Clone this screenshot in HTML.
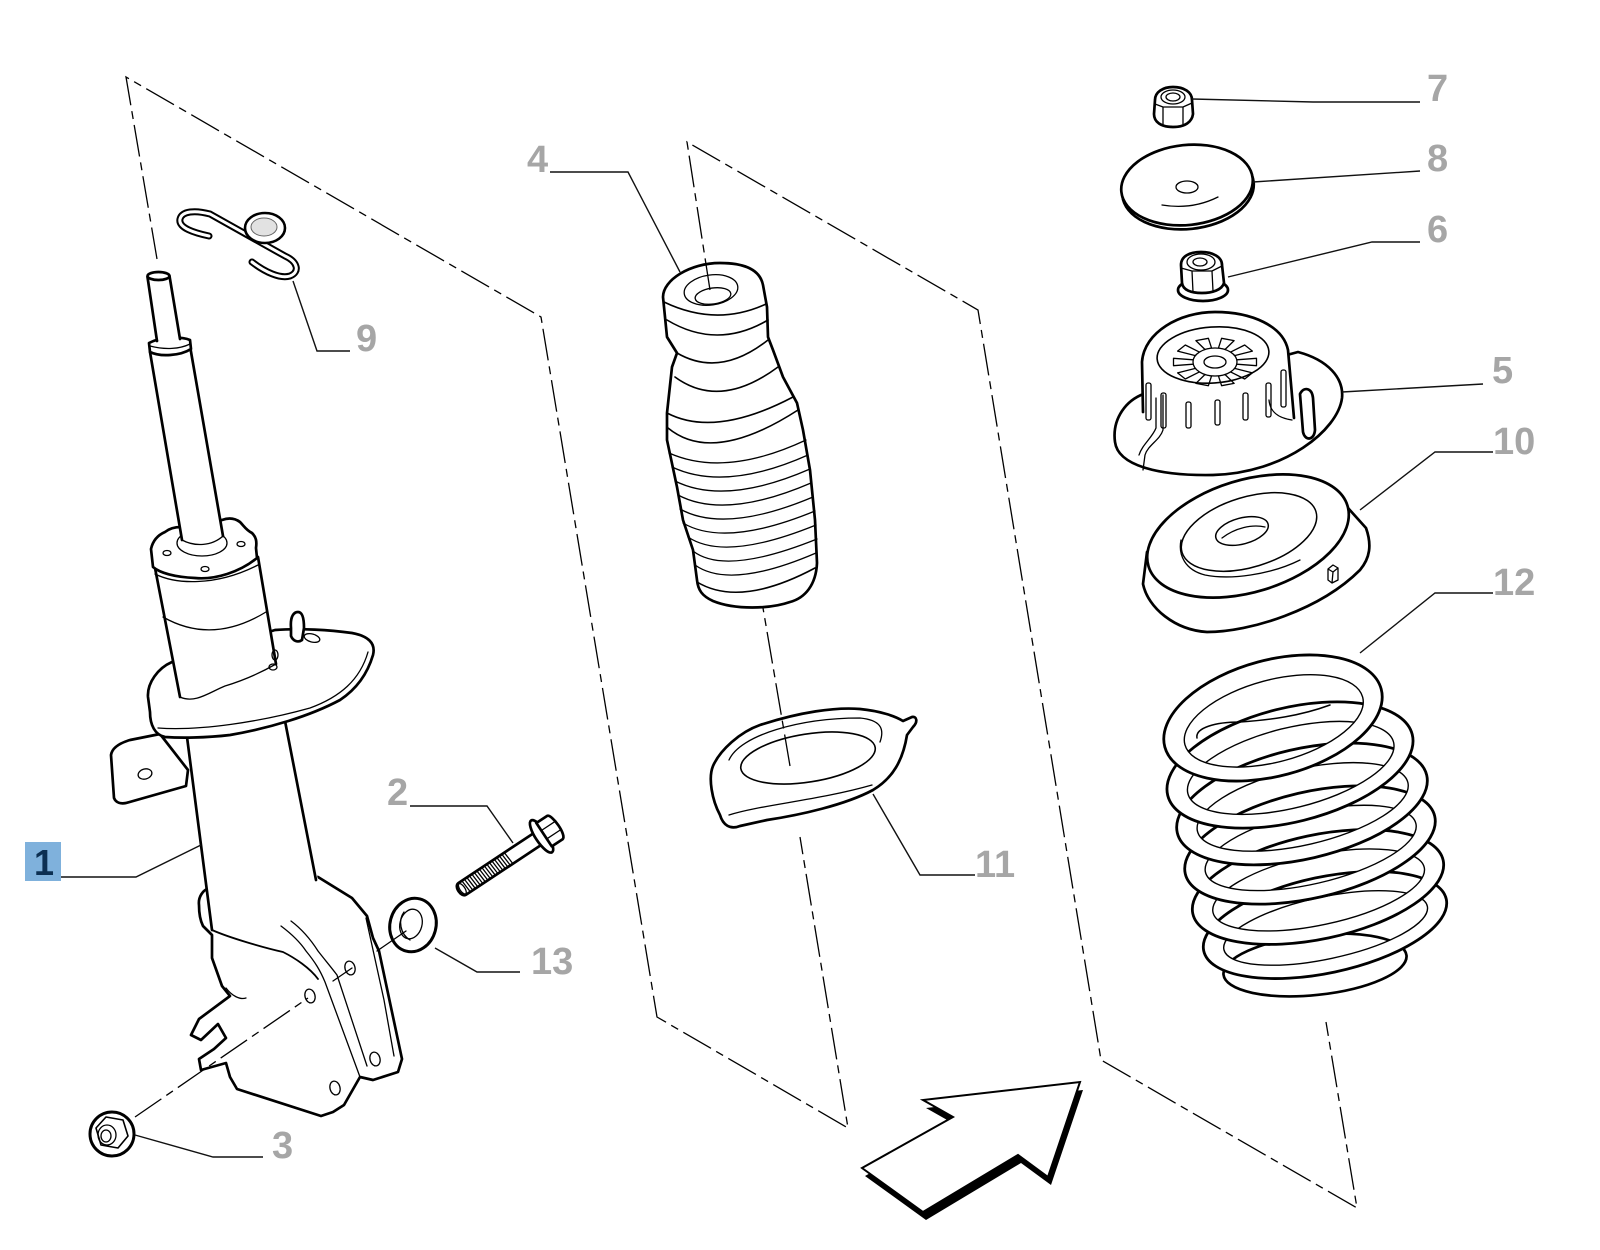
<!DOCTYPE html>
<html><head><meta charset="utf-8"><style>
html,body{margin:0;padding:0;background:#fff;}
svg{display:block;}
.o{fill:#fff;stroke:#000;stroke-width:2.7;stroke-linejoin:round;stroke-linecap:round;}
.n{fill:none;stroke:#000;stroke-width:2.7;stroke-linejoin:round;stroke-linecap:round;}
.t{fill:none;stroke:#000;stroke-width:1.3;stroke-linecap:round;stroke-linejoin:round;}
.tw{fill:#fff;stroke:#000;stroke-width:1.3;stroke-linejoin:round;}
.d{fill:none;stroke:#000;stroke-width:1.3;stroke-dasharray:32 6 8 6;}
.l{fill:none;stroke:#111;stroke-width:1.4;}
.lb{font-family:"Liberation Sans",Arial,sans-serif;font-weight:bold;font-size:38px;fill:#a6a6a6;}
</style></head><body>
<svg width="1600" height="1250" viewBox="0 0 1600 1250" xmlns="http://www.w3.org/2000/svg">
<rect width="1600" height="1250" fill="#fff"/>

<!-- ============ PART 1: STRUT ============ -->
<path class="o" d="M209,888 C203,890 198,897 199,905 C199,915 201,922 203,926 L212,935 L212,958 L222,986 L230,996 L199,1019 L191,1035 L201,1040 L218,1024 L226,1038 L214,1049 L199,1059 L201,1070 L226,1063 L230,1077 L237,1089 L321,1116 L333,1112 L344,1105 L360,1077 L373,1080 L398,1072 L402,1059 L379,951 L373,938 L367,916 L352,898 L318,877 L314,877 Z"/>
<path d="M187,737 L212,928 C230,937 265,948 283,952 C295,958 310,968 318,979 L318,880 L285,721 Z" fill="#fff"/>
<path class="n" d="M187,737 L212,930"/>
<path class="n" d="M285,721 L316,880"/>
<path class="t" style="stroke-width:1.8" d="M212,930 C230,938 265,948 283,952 C295,958 310,968 318,979"/>
<path class="t" d="M281,926 C293,935 300,942 306,951 C315,962 320,970 325,982 L360,1077"/>
<path class="t" d="M291,921 C303,930 311,940 318,951 C325,960 331,967 337,975 L367,1066"/>
<path class="t" d="M366,918 L384,1000 L394,1056"/>
<path class="t" d="M226,988 C232,996 240,1000 246,998"/>
<ellipse class="t" cx="350" cy="968" rx="5" ry="7" transform="rotate(-15 350 968)"/>
<ellipse class="t" cx="310" cy="996" rx="5" ry="7" transform="rotate(-15 310 996)"/>
<ellipse class="t" cx="375" cy="1059" rx="5" ry="7" transform="rotate(-15 375 1059)"/>
<ellipse class="t" cx="335" cy="1088" rx="5" ry="7" transform="rotate(-15 335 1088)"/>
<path class="o" d="M160,734 L130,740 C120,743 112,748 111,755 L114,798 C116,803 121,804 126,803 L186,786 L188,770 Z"/>
<ellipse class="t" cx="145" cy="774" rx="7" ry="5" transform="rotate(-15 145 774)"/>
<path class="o" d="M172,662 L275,630 C300,628 330,630 352,633 C368,636 376,643 373,655 C368,672 358,688 340,700 C310,716 270,728 230,735 C205,738 180,738 165,737 C155,735 150,725 150,712 L148,697 C147,683 158,668 172,662 Z"/>
<path class="t" d="M158,728 C200,731 260,722 310,708 C340,697 360,680 368,652"/>
<path class="o" d="M291,628 C290,616 294,612 298,612 C302,612 304,617 304,628 L302,640 C298,643 293,641 291,636 Z"/>
<ellipse class="t" cx="312" cy="638" rx="8" ry="4" transform="rotate(15 312 638)"/>
<path d="M155,568 L180,697 C195,704 210,692 225,686 C245,680 262,672 276,664 L258,557 Z" fill="#fff"/>
<path class="n" d="M155,568 L180,697"/>
<path class="n" d="M258,557 L276,664"/>
<path class="t" d="M180,697 C195,704 210,692 225,686 C245,680 262,672 276,664"/>
<path class="t" d="M163,617 Q212,645 266,612"/>
<ellipse class="t" cx="275" cy="655" rx="3" ry="5"/>
<ellipse class="t" cx="273" cy="667" rx="4" ry="3"/>
<path class="o" d="M153,567 L151,549 C153,540 158,535 165,532 C170,528 176,527 181,527 L222,520 C230,517 236,519 240,522 C244,526 246,530 252,533 C256,537 257,541 256,548 L257,558 C240,572 215,580 195,578 C175,577 160,573 153,567 Z"/>
<path class="t" d="M155,574 C175,584 215,587 258,565"/>
<ellipse class="t" cx="202" cy="543" rx="25" ry="13"/>
<ellipse class="t" cx="167" cy="553" rx="4" ry="2.5"/>
<ellipse class="t" cx="205" cy="569" rx="4" ry="2.5"/>
<ellipse class="t" cx="241" cy="544" rx="4" ry="2.5"/>
<path d="M182,541 L150,352 L190,346 L223,537 Z" fill="#fff"/>
<path class="n" d="M150,352 L182,540"/>
<path class="n" d="M190,346 L223,536"/>
<path class="t" d="M182,540 C195,547 212,546 223,536"/>
<path class="o" d="M149,343 C160,337 180,336 190,340 L191,349 C180,356 160,357 150,352 Z"/>
<path class="t" d="M150,346 C165,350 180,349 190,344"/>
<path d="M147.5,277 L169.5,276 L180,339 L157,341 Z" fill="#fff"/>
<path class="n" d="M147.5,277 L157,341"/>
<path class="n" d="M169.5,276 L180,339"/>
<ellipse class="o" cx="158.5" cy="276" rx="11" ry="4"/>

<!-- ============ PART 9: CLIP ============ -->
<path d="M209,236 C195,233 178,228 180,219 C182,211 195,210 210,214 L285,256 C298,262 300,272 290,276 C280,279 265,272 252,262" fill="none" stroke="#000" stroke-width="7" stroke-linecap="round" stroke-linejoin="round"/>
<path d="M209,236 C195,233 178,228 180,219 C182,211 195,210 210,214 L285,256 C298,262 300,272 290,276 C280,279 265,272 252,262" fill="none" stroke="#fff" stroke-width="3" stroke-linecap="round" stroke-linejoin="round"/>
<ellipse cx="265" cy="228" rx="20" ry="15" fill="#fff" stroke="#000" stroke-width="2.6"/>
<ellipse cx="264" cy="227" rx="13" ry="9" fill="#e2e2e2" stroke="#666" stroke-width="1"/>

<!-- ============ PART 2: BOLT ============ -->
<g transform="translate(459,891) rotate(-33.5)">
<path class="o" d="M4,-7 L97,-7 L97,7 L4,7 C-2,7 -2,-7 4,-7 Z"/>
<path class="t" d="M8,-7 L9,7 M11,-7 L12,7 M14,-7 L15,7 M17,-7 L18,7 M20,-7 L21,7 M23,-7 L24,7 M26,-7 L27,7 M29,-7 L30,7 M32,-7 L33,7 M35,-7 L36,7 M38,-7 L39,7 M41,-7 L42,7 M44,-7 L45,7 M47,-7 L48,7 M50,-7 L51,7 M53,-7 L54,7 M56,-7 L57,7 M59,-7 L60,7"/>
<ellipse class="t" cx="4" cy="0" rx="2.5" ry="6"/>
<ellipse class="o" cx="99" cy="0" rx="6" ry="19"/>
<path class="o" d="M102,-14 L115,-14 C120,-13 121,13 115,14 L102,14 Z"/>
<path class="t" d="M103,-5 L119,-5 M103,5 L119,5"/>
</g>

<!-- ============ PART 13: WASHER ============ -->
<ellipse cx="413" cy="925" rx="23" ry="27" transform="rotate(15 413 925)" fill="#fff" stroke="#000" stroke-width="3"/>
<ellipse class="t" cx="411" cy="924" rx="11" ry="15" transform="rotate(15 411 924)"/>
<path class="t" d="M404,912 C398,920 400,934 410,940"/>

<!-- ============ PART 3: NUT ============ -->
<ellipse cx="112" cy="1134" rx="22" ry="22" fill="#fff" stroke="#000" stroke-width="3"/>
<path class="t" style="stroke-width:1.6" d="M96,1128 L106,1117 L123,1120 L128,1136 L118,1148 L101,1145 Z"/>
<ellipse class="t" cx="107" cy="1135" rx="9" ry="10"/>
<ellipse class="t" cx="106" cy="1136" rx="5" ry="6"/>

<!-- ============ PART 4: BOOT ============ -->
<path class="o" d="M663,297 C663,280 690,263 720,263 C745,263 760,270 763,285 L767,307 L768,337 L773,350 L783,377 L797,403 L803,430 L810,470 L815,520 L817,563 C816,585 805,598 790,602 C770,609 735,610 713,601 C702,596 698,590 697,580 L693,550 L683,520 L677,487 L667,440 L667,413 L672,367 L677,353 L667,337 Z"/>
<path class="t" style="stroke-width:1.6" d="M664,302 Q716,327 766,304"/>
<ellipse class="t" cx="711" cy="290" rx="27" ry="15" transform="rotate(-8 711 290)"/>
<ellipse class="t" cx="713" cy="296" rx="18" ry="8" transform="rotate(-8 713 296)"/>
<path class="t" style="stroke-width:1.6" d="M667,320 Q717,350 768,320"/>
<path class="t" style="stroke-width:1.6" d="M677,353 Q720,378 768,340"/>
<path class="t" style="stroke-width:1.6" d="M675,377 Q720,410 778,367"/>
<path class="t" style="stroke-width:1.6" d="M667,413 Q715,438 793,397"/>
<path class="t" style="stroke-width:1.6" d="M668,428 Q713,465 798,410"/>
<path class="t" d="M669,453 Q725,478 806,440"/>
<path class="t" d="M672,467 Q725,492 808,455"/>
<path class="t" d="M675,481 Q725,506 810,469"/>
<path class="t" d="M678,495 Q725,520 811,483"/>
<path class="t" d="M680,509 Q725,534 813,497"/>
<path class="t" d="M683,523 Q725,548 815,511"/>
<path class="t" d="M688,537 Q725,562 816,525"/>
<path class="t" d="M693,551 Q725,576 817,539"/>
<path class="t" d="M695,565 Q730,590 816,553"/>
<path class="t" style="stroke-width:1.6" d="M697,582 Q740,608 815,568"/>

<!-- ============ PART 11: SEAT ============ -->
<path class="o" d="M713,766 C708,778 712,800 720,815 C723,825 730,830 740,826 L767,820 C800,815 845,805 873,790 C893,778 903,760 907,735 L913,727 C918,722 917,716 912,717 L903,721 C895,716 880,711 860,709 C835,707 800,712 760,725 C740,732 720,750 713,766 Z"/>
<ellipse class="t" style="stroke-width:1.6" cx="808" cy="758" rx="68" ry="24" transform="rotate(-9 808 758)"/>
<path class="t" d="M729,760 C740,735 800,718 860,718 C880,720 885,728 880,742"/>
<path class="t" d="M729,815 C760,805 820,800 872,785"/>

<!-- ============ ARROW ============ -->
<polygon points="865,1176 956,1125 926,1108 1083,1090 1051,1185 1021,1163 926,1220" fill="#000"/>
<polygon points="862,1168 953,1117 923,1100 1080,1082 1048,1177 1018,1155 923,1212" fill="#fff" stroke="#000" stroke-width="2" stroke-linejoin="miter"/>

<!-- ============ PART 7: NUT ============ -->
<path class="o" d="M1155,100 C1155,92 1163,87 1173,87 C1184,87 1192,92 1192,100 L1193,114 C1192,122 1185,127 1173,127 C1161,127 1154,122 1154,114 Z"/>
<path class="t" d="M1155,104 L1163,107 L1183,107 L1192,103 M1163,107 L1163,125 M1183,107 L1183,124"/>
<ellipse class="t" cx="1173" cy="97" rx="12" ry="7"/>
<ellipse class="t" cx="1173" cy="97" rx="7" ry="4"/>

<!-- ============ PART 8: WASHER ============ -->
<ellipse class="o" cx="1188" cy="189" rx="66" ry="40" transform="rotate(-6 1188 189)"/>
<ellipse class="o" cx="1187" cy="185" rx="66" ry="40" transform="rotate(-6 1187 185)"/>
<ellipse class="t" cx="1187" cy="187" rx="11" ry="6"/>
<path class="t" d="M1162,205 Q1192,210 1218,197"/>

<!-- ============ PART 6: NUT ============ -->
<ellipse class="o" cx="1203" cy="290" rx="25" ry="11"/>
<path class="o" d="M1181,265 C1181,256 1190,252 1201,252 C1213,252 1222,257 1222,265 L1224,283 C1222,290 1212,293 1202,293 C1191,293 1183,290 1182,283 Z"/>
<path class="t" d="M1181,268 L1192,271 L1212,271 L1222,266 M1192,271 L1193,292 M1212,271 L1213,291"/>
<ellipse class="t" cx="1201" cy="262" rx="14" ry="8"/>
<ellipse class="t" cx="1200" cy="262" rx="7" ry="4"/>

<!-- ============ PART 5: TOP MOUNT ============ -->
<path class="o" d="M1150,392 C1125,398 1112,420 1115,442 C1118,466 1160,476 1213,475 C1285,473 1338,430 1342,398 C1344,378 1328,360 1298,352 Z"/>
<path d="M1143,400 L1142,362 C1144,332 1180,312 1215,312 C1252,312 1283,326 1288,350 L1293,408 C1280,425 1230,440 1185,435 C1160,430 1145,420 1143,400 Z" fill="#fff"/>
<path class="n" d="M1143,412 L1142,362 C1144,332 1180,312 1215,312 C1252,312 1283,326 1288,350 L1294,418"/>
<path class="t" d="M1163,395 L1163,430 C1160,440 1148,445 1145,455 L1143,470"/>
<path class="t" d="M1156,398 L1156,428 C1152,438 1142,445 1139,455"/>
<ellipse class="t" style="stroke-width:1.6" cx="1213" cy="355" rx="56" ry="28" transform="rotate(-4 1213 355)"/>
<polygon class="t" points="1236.7,359.8 1256.5,358.3 1256.5,365.7 1236.7,364.2"/>
<polygon class="t" points="1234.6,368.4 1252.4,372.9 1244.7,379 1230.6,371.9"/>
<polygon class="t" points="1225,374.5 1234.1,383.4 1221.6,385.7 1218.4,375.8"/>
<polygon class="t" points="1211.6,375.8 1208.4,385.7 1195.9,383.4 1205,374.5"/>
<polygon class="t" points="1199.4,371.9 1185.3,379 1177.6,372.9 1195.4,368.4"/>
<polygon class="t" points="1193.3,364.2 1173.5,365.7 1173.5,358.3 1193.3,359.8"/>
<polygon class="t" points="1195.4,355.6 1177.6,351.1 1185.3,345 1199.4,352.1"/>
<polygon class="t" points="1205,349.5 1195.9,340.6 1208.4,338.3 1211.6,348.2"/>
<polygon class="t" points="1218.4,348.2 1221.6,338.3 1234.1,340.6 1225,349.5"/>
<polygon class="t" points="1230.6,352.1 1244.7,345 1252.4,351.1 1234.6,355.6"/>
<ellipse class="tw" cx="1215" cy="362" rx="22" ry="14"/>
<ellipse class="t" cx="1215" cy="362" rx="11" ry="6"/>
<rect class="t" x="1146" y="383" width="5" height="37" rx="2"/>
<rect class="t" x="1161" y="393" width="5" height="35" rx="2"/>
<rect class="t" x="1186" y="402" width="5" height="26" rx="2"/>
<rect class="t" x="1215" y="400" width="5" height="25" rx="2"/>
<rect class="t" x="1243" y="393" width="5" height="27" rx="2"/>
<rect class="t" x="1266" y="383" width="5" height="34" rx="2"/>
<rect class="t" x="1281" y="370" width="5" height="37" rx="2"/>
<path class="t" d="M1269,400 C1270,412 1278,418 1292,420"/>
<path class="o" d="M1300,394 C1304,386 1312,388 1313,398 L1315,430 C1314,441 1305,441 1303,432 Z"/>

<!-- ============ PART 10: SPRING SEAT ============ -->
<path class="o" d="M1147,552 L1143,584 C1148,608 1175,630 1207,632 C1250,632 1320,610 1360,570 C1370,558 1372,545 1366,528 L1348,508 Z"/>
<ellipse class="o" cx="1248" cy="536" rx="104" ry="56" transform="rotate(-17 1248 536)"/>
<ellipse class="t" style="stroke-width:1.5" cx="1249" cy="532" rx="70" ry="35" transform="rotate(-17 1249 532)"/>
<path class="t" d="M1181,540 C1178,555 1185,570 1205,575 C1230,580 1270,575 1300,560"/>
<ellipse class="t" style="stroke-width:1.5" cx="1242" cy="531" rx="27" ry="13" transform="rotate(-15 1242 531)"/>
<path class="t" d="M1222,538 C1235,528 1252,524 1265,527"/>
<path class="t" d="M1328,569 L1333,565 L1338,568 L1338,580 L1332,583 L1328,580 Z M1328,569 L1333,572 L1338,568 M1333,572 L1332,583"/>

<!-- ============ PART 12: SPRING ============ -->
<ellipse class="o" cx="1315" cy="965" rx="92" ry="30" transform="rotate(-6 1315 965)"/>
<g transform="rotate(-12 1325 925)"><path fill="#fff" fill-rule="evenodd" d="M1201,925 a124,48 0 1 0 248,0 a124,48 0 1 0 -248,0 Z M1221,928 a104,31 0 1 0 208,0 a104,31 0 1 0 -208,0 Z"/><ellipse cx="1325" cy="925" rx="124" ry="48" fill="none" stroke="#000" stroke-width="2.8"/><ellipse cx="1325" cy="928" rx="104" ry="31" fill="none" stroke="#000" stroke-width="1.4"/></g>
<g transform="rotate(-12 1318 887)"><path fill="#fff" fill-rule="evenodd" d="M1190,887 a128,52 0 1 0 256,0 a128,52 0 1 0 -256,0 Z M1210,890 a108,35 0 1 0 216,0 a108,35 0 1 0 -216,0 Z"/><ellipse cx="1318" cy="887" rx="128" ry="52" fill="none" stroke="#000" stroke-width="2.8"/><ellipse cx="1318" cy="890" rx="108" ry="35" fill="none" stroke="#000" stroke-width="1.4"/></g>
<g transform="rotate(-13 1310 845)"><path fill="#fff" fill-rule="evenodd" d="M1182,845 a128,53 0 1 0 256,0 a128,53 0 1 0 -256,0 Z M1202,848 a108,36 0 1 0 216,0 a108,36 0 1 0 -216,0 Z"/><ellipse cx="1310" cy="845" rx="128" ry="53" fill="none" stroke="#000" stroke-width="2.8"/><ellipse cx="1310" cy="848" rx="108" ry="36" fill="none" stroke="#000" stroke-width="1.4"/></g>
<g transform="rotate(-13 1302 804)"><path fill="#fff" fill-rule="evenodd" d="M1174,804 a128,55 0 1 0 256,0 a128,55 0 1 0 -256,0 Z M1194,807 a108,38 0 1 0 216,0 a108,38 0 1 0 -216,0 Z"/><ellipse cx="1302" cy="804" rx="128" ry="55" fill="none" stroke="#000" stroke-width="2.8"/><ellipse cx="1302" cy="807" rx="108" ry="38" fill="none" stroke="#000" stroke-width="1.4"/></g>
<g transform="rotate(-14 1290 765)"><path fill="#fff" fill-rule="evenodd" d="M1164,765 a126,57 0 1 0 252,0 a126,57 0 1 0 -252,0 Z M1184,768 a106,40 0 1 0 212,0 a106,40 0 1 0 -212,0 Z"/><ellipse cx="1290" cy="765" rx="126" ry="57" fill="none" stroke="#000" stroke-width="2.8"/><ellipse cx="1290" cy="768" rx="106" ry="40" fill="none" stroke="#000" stroke-width="1.4"/></g>
<g transform="rotate(-15 1273 718)"><path fill="#fff" fill-rule="evenodd" d="M1161,718 a112,58 0 1 0 224,0 a112,58 0 1 0 -224,0 Z M1181,721 a92,41 0 1 0 184,0 a92,41 0 1 0 -184,0 Z"/><ellipse cx="1273" cy="718" rx="112" ry="58" fill="none" stroke="#000" stroke-width="2.8"/><ellipse cx="1273" cy="721" rx="92" ry="41" fill="none" stroke="#000" stroke-width="1.4"/></g>
<path class="t" style="stroke-width:1.5" d="M1197,738 C1195,728 1215,722 1240,722 C1270,720 1300,716 1330,705"/>

<!-- ============ DASHED LINES ============ -->
<path class="d" d="M157,259 L126,77 L541,317 L657,1017 L848,1128 L800,837"/>
<path class="d" d="M790,766 L763,608"/>
<path class="d" d="M710,290 L687,142 L978,310 L1101,1060 L1357,1208 L1326,1022"/>
<path class="d" d="M135,1117 L308,998"/>
<path class="t" d="M333,981 L352,968 M377,951 L406,931"/>

<!-- ============ LEADERS ============ -->
<path class="l" d="M1192,99 L1313,102 L1420,102"/>
<path class="l" d="M1253,182 L1420,171"/>
<path class="l" d="M1228,277 L1372,242 L1420,242"/>
<path class="l" d="M1342,392 L1483,384"/>
<path class="l" d="M1360,510 L1435,452 L1493,452"/>
<path class="l" d="M1360,653 L1435,593 L1493,593"/>
<path class="l" d="M550,172 L628,172 L680,272"/>
<path class="l" d="M293,281 L317,351 L350,351"/>
<path class="l" d="M61,877 L136,877 L201,845"/>
<path class="l" d="M410,806 L487,806 L513,843"/>
<path class="l" d="M435,948 L477,972 L520,972"/>
<path class="l" d="M873,794 L920,875 L975,875"/>
<path class="l" d="M135,1135 L213,1157 L263,1157"/>

<!-- ============ LABELS ============ -->
<text class="lb" x="1427" y="101">7</text>
<text class="lb" x="1427" y="171">8</text>
<text class="lb" x="1427" y="242">6</text>
<text class="lb" x="1492" y="383">5</text>
<text class="lb" x="1493" y="454">10</text>
<text class="lb" x="1493" y="595">12</text>
<text class="lb" x="527" y="172">4</text>
<text class="lb" x="356" y="351">9</text>
<text class="lb" x="387" y="805">2</text>
<text class="lb" x="531" y="974">13</text>
<text class="lb" x="975" y="877">11</text>
<text class="lb" x="272" y="1158">3</text>
<rect x="25" y="842" width="36" height="39" fill="#7fb1dc"/>
<text x="44" y="875" text-anchor="middle" style="font-family:'Liberation Sans',Arial,sans-serif;font-weight:bold;font-size:36px;fill:#0c2f52;">1</text>
</svg>
</body></html>
